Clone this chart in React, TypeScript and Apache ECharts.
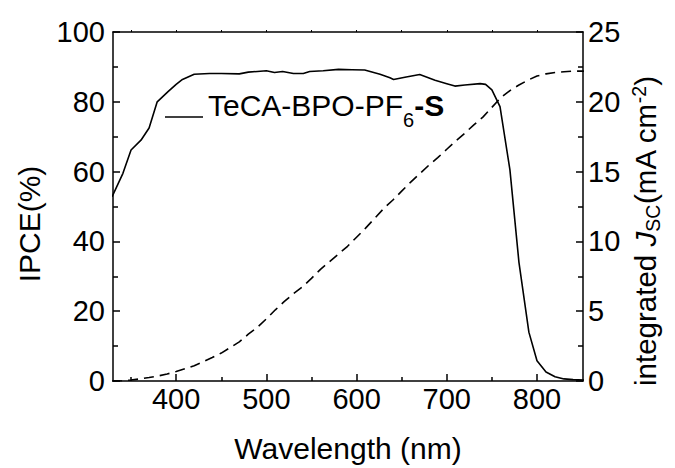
import React, { useEffect, useRef } from "react";
import * as echarts from "echarts";

// IPCE curve (wavelength nm, IPCE %)
const ipceWavelength = [329, 341, 350, 361, 370, 379, 391, 400, 407, 420, 437, 450, 470, 480, 490, 500, 509, 518, 530, 541, 548, 563, 580, 595, 609, 626, 637, 641, 655, 670, 687, 700, 709, 720, 737, 743, 750, 759, 770, 780, 791, 800, 810, 820, 830, 840, 852];
const ipceValues = [52.8, 59.5, 66.2, 69, 72.5, 80, 82.9, 85.0, 86.4, 87.9, 88.1, 88.1, 88.0, 88.5, 88.7, 88.9, 88.4, 88.7, 88.1, 88.1, 88.7, 88.9, 89.3, 89.2, 89.1, 87.9, 86.9, 86.4, 87.1, 87.8, 86.2, 85.2, 84.5, 84.8, 85.2, 85.0, 83.4, 78.6, 60.5, 34.0, 14.0, 5.8, 2.6, 1.2, 0.6, 0.4, 0.3];

// integrated Jsc curve (wavelength nm, mA cm^-2)
const jscWavelength = [329, 340, 350, 360, 370, 380, 390, 400, 410, 420, 430, 440, 450, 460, 470, 480, 490, 500, 510, 520, 530, 540, 550, 560, 570, 580, 590, 600, 610, 620, 630, 640, 650, 660, 670, 680, 690, 700, 710, 720, 730, 740, 750, 760, 770, 780, 790, 800, 810, 820, 830, 840, 852];
const jscValues = [0, 0.02, 0.07, 0.15, 0.25, 0.36, 0.5, 0.68, 0.88, 1.1, 1.38, 1.68, 2.0, 2.4, 2.8, 3.35, 3.85, 4.45, 5.1, 5.7, 6.25, 6.75, 7.35, 8.0, 8.55, 9.1, 9.65, 10.3, 10.95, 11.65, 12.35, 12.95, 13.6, 14.25, 14.85, 15.45, 16.0, 16.6, 17.2, 17.75, 18.35, 18.9, 19.6, 20.3, 20.8, 21.2, 21.55, 21.85, 22.0, 22.1, 22.15, 22.2, 22.2];

const xMajorTicks = [400, 500, 600, 700, 800];
const xMinorTicks = [350, 450, 550, 650, 750];
const xTopTicks = [350, 400, 450, 500, 550, 600, 650, 700, 750, 800];

const FONT = "Liberation Sans, Arial, sans-serif";

export default function App() {
  const ref = useRef<HTMLDivElement>(null);
  useEffect(() => {
    if (!ref.current) return;
    const chart = echarts.init(ref.current, null, { renderer: "svg" });
    const axisLine = { show: true, lineStyle: { color: "#000", width: 1.5 } };
    const option: any = {
      animation: false,
      backgroundColor: "#fff",
      grid: { left: 113, right: 92, top: 32, bottom: 87, containLabel: false, outerBoundsMode: "none" },
      legend: {
        data: ["IPCE"],
        left: 165,
        top: 90,
        padding: 0,
        icon: "rect",
        itemWidth: 38,
        itemHeight: 1.6,
        formatter: () => "{a|TeCA-BPO-PF}{s|6}{b|-S}",
        textStyle: {
          rich: {
            a: { fontFamily: FONT, fontSize: 30, color: "#000", lineHeight: 30, padding: [0, 0, 24, 0] },
            s: { fontFamily: FONT, fontSize: 20, color: "#000", lineHeight: 20, padding: [6, 0, 0, 0] },
            b: { fontFamily: FONT, fontSize: 30, fontWeight: "bold", color: "#000", lineHeight: 30, padding: [0, 0, 24, 0] },
          },
        },
      },
      xAxis: [
        {
          type: "value",
          min: 330,
          max: 851,
          position: "bottom",
          axisLine,
          splitLine: { show: false },
          axisTick: { show: true, inside: true, length: 7, customValues: xMajorTicks, lineStyle: { color: "#000", width: 1.5 } },
          axisLabel: { customValues: xMajorTicks, fontFamily: FONT, fontSize: 29, color: "#000", margin: 3 },
        },
        {
          type: "value",
          min: 330,
          max: 851,
          position: "bottom",
          axisLine: { show: false },
          splitLine: { show: false },
          axisTick: { show: true, inside: true, length: 4, customValues: xMinorTicks, lineStyle: { color: "#000", width: 1.5 } },
          axisLabel: { show: false },
        },
        {
          type: "value",
          min: 330,
          max: 851,
          position: "top",
          axisLine,
          splitLine: { show: false },
          axisTick: { show: true, inside: false, length: 2, customValues: xTopTicks, lineStyle: { color: "#000", width: 1 } },
          axisLabel: { show: false },
        },
      ],
      yAxis: [
        {
          type: "value",
          min: 0,
          max: 100,
          interval: 20,
          position: "left",
          axisLine,
          splitLine: { show: false },
          axisTick: { show: true, inside: true, length: 7, lineStyle: { color: "#000", width: 1.5 } },
          minorTick: { show: true, splitNumber: 2, length: 5, lineStyle: { color: "#000", width: 1.5 } },
          axisLabel: { fontFamily: FONT, fontSize: 29, color: "#000", margin: 8 },
        },
        {
          type: "value",
          min: 0,
          max: 25,
          interval: 5,
          position: "right",
          axisLine,
          splitLine: { show: false },
          axisTick: { show: true, inside: true, length: 7, lineStyle: { color: "#000", width: 1.5 } },
          minorTick: { show: true, splitNumber: 2, length: 5, lineStyle: { color: "#000", width: 1.5 } },
          axisLabel: { fontFamily: FONT, fontSize: 29, color: "#000", margin: 5 },
        },
      ],
      series: [
        {
          name: "IPCE",
          type: "line",
          xAxisIndex: 0,
          yAxisIndex: 0,
          symbol: "none",
          showSymbol: false,
          lineStyle: { color: "#000", width: 1.6 },
          itemStyle: { color: "#000" },
          data: ipceWavelength.map((w, i) => [w, ipceValues[i]]),
        },
        {
          name: "Jsc",
          type: "line",
          xAxisIndex: 0,
          yAxisIndex: 1,
          symbol: "none",
          showSymbol: false,
          lineStyle: { color: "#000", width: 1.6, type: [10, 6] },
          itemStyle: { color: "#000" },
          data: jscWavelength.map((w, i) => [w, jscValues[i]]),
        },
      ],
      graphic: [
        {
          type: "text",
          x: 348,
          y: 448,
          style: { text: "Wavelength (nm)", fontFamily: FONT, fontSize: 30, fill: "#000", align: "center", verticalAlign: "middle" },
        },
        {
          type: "text",
          x: 29,
          y: 224,
          rotation: Math.PI / 2,
          style: { text: "IPCE(%)", fontFamily: FONT, fontSize: 30, fill: "#000", align: "center", verticalAlign: "middle" },
        },
        {
          type: "text",
          x: 645,
          y: 231,
          rotation: Math.PI / 2,
          style: {
            text: "{a|integrated }{i|J}{s|SC}{a|(mA cm}{p|-2}{a|)}",
            fill: "#000",
            align: "center",
            verticalAlign: "middle",
            rich: {
              a: { fontFamily: FONT, fontSize: 29.5, fill: "#000", lineHeight: 30 },
              i: { fontFamily: FONT, fontSize: 29.5, fontStyle: "italic", fill: "#000", lineHeight: 30 },
              s: { fontFamily: FONT, fontSize: 19.5, fill: "#000", lineHeight: 20, padding: [16, 0, 0, 0] },
              p: { fontFamily: FONT, fontSize: 19.5, fill: "#000", lineHeight: 20, padding: [0, 0, 13, 0] },
            },
          },
        },
      ],
    };
    chart.setOption(option);
    return () => chart.dispose();
  }, []);
  return <div ref={ref} style={{ position: "absolute", left: 0, top: 0, width: 675, height: 468 }} />;
}
